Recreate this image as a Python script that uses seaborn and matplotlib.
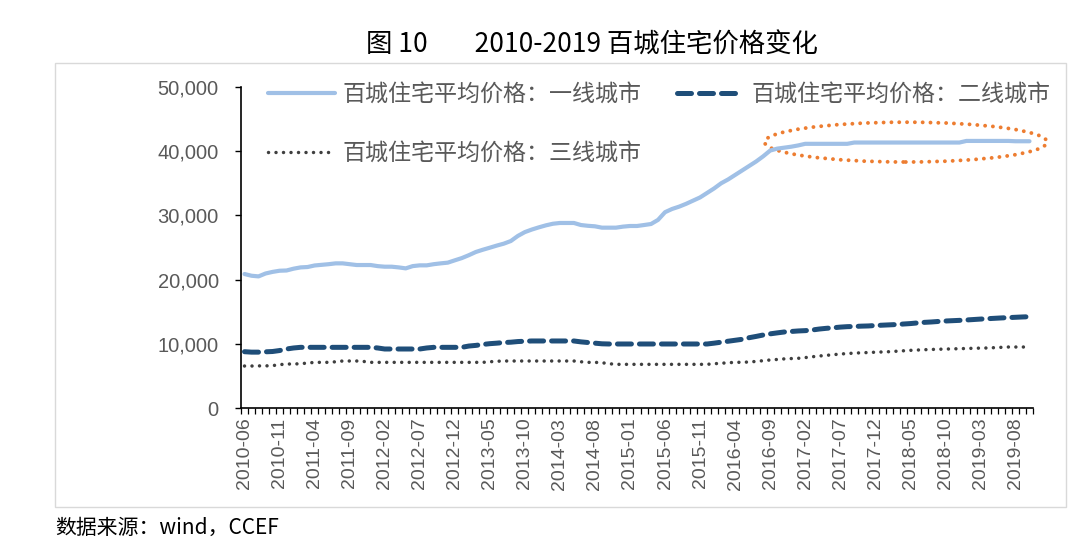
import numpy as np
import pandas as pd
import seaborn as sns
import matplotlib
matplotlib.use("Agg")
import matplotlib.pyplot as plt
from matplotlib.patches import Ellipse, Rectangle
from matplotlib.ticker import FuncFormatter, FixedLocator

# ---------------- data ----------------
months = [p.strftime("%Y-%m") for p in pd.period_range("2010-06", "2019-10", freq="M")]

tier1 = [
    20870, 20600, 20500, 20950, 21200, 21380, 21420, 21700, 21900, 21960,
    22200, 22300, 22400, 22530, 22530, 22400, 22270, 22270, 22270, 22100,
    22010, 22010, 21900, 21750, 22100, 22220, 22220, 22400, 22530, 22640,
    23000, 23350, 23800, 24300, 24650, 24970, 25300, 25600, 26010, 26800,
    27400, 27800, 28140, 28450, 28700, 28820, 28820, 28820, 28500, 28380,
    28300, 28090, 28090, 28090, 28250, 28350, 28350, 28500, 28660, 29300,
    30500, 31000, 31360, 31800, 32300, 32800, 33500, 34200, 35000, 35600,
    36300, 37000, 37700, 38400, 39200, 40100, 40400, 40550, 40700, 40900,
    41150, 41150, 41150, 41150, 41150, 41150, 41150, 41350, 41350, 41350,
    41350, 41350, 41350, 41350, 41350, 41350, 41350, 41350, 41350, 41350,
    41350, 41350, 41350, 41600, 41600, 41600, 41600, 41600, 41600, 41600,
    41550, 41550, 41550,
]
tier2 = [
    8770, 8700, 8700, 8750, 8800, 8950, 9190, 9350, 9450, 9450,
    9450, 9450, 9450, 9450, 9450, 9450, 9450, 9450, 9450, 9350,
    9190, 9190, 9190, 9190, 9190, 9190, 9350, 9450, 9450, 9450,
    9450, 9450, 9650, 9750, 9900, 10020, 10100, 10200, 10250, 10350,
    10400, 10440, 10440, 10440, 10440, 10440, 10440, 10440, 10300, 10200,
    10100, 10000, 9970, 9970, 9970, 9970, 9970, 9970, 9970, 9970,
    9970, 9970, 9970, 9970, 9970, 9970, 9970, 10100, 10250, 10400,
    10550, 10700, 10950, 11150, 11370, 11550, 11700, 11840, 11920, 12000,
    12050, 12150, 12300, 12410, 12500, 12600, 12670, 12700, 12750, 12780,
    12850, 12900, 12950, 13000, 13080, 13150, 13250, 13340, 13400, 13480,
    13550, 13600, 13650, 13710, 13780, 13850, 13910, 13970, 14030, 14080,
    14130, 14180, 14220,
]
tier3 = [
    6540, 6540, 6560, 6560, 6600, 6750, 6850, 6850, 6900, 7000,
    7110, 7110, 7110, 7200, 7320, 7320, 7320, 7250, 7110, 7110,
    7110, 7110, 7110, 7110, 7110, 7110, 7110, 7110, 7110, 7110,
    7110, 7110, 7110, 7110, 7110, 7200, 7280, 7320, 7320, 7320,
    7320, 7320, 7320, 7320, 7320, 7320, 7320, 7320, 7200, 7110,
    7110, 7050, 6900, 6800, 6800, 6800, 6800, 6800, 6800, 6800,
    6800, 6800, 6800, 6800, 6800, 6800, 6800, 6900, 6960, 7060,
    7100, 7130, 7160, 7260, 7370, 7480, 7560, 7650, 7700, 7740,
    7850, 7980, 8100, 8200, 8300, 8410, 8480, 8550, 8600, 8640,
    8690, 8730, 8770, 8840, 8910, 8980, 9030, 9080, 9120, 9150,
    9180, 9210, 9240, 9270, 9300, 9330, 9350, 9400, 9450, 9500,
    9500, 9500, 9500,
]
series_names = ["百城住宅平均价格：一线城市", "百城住宅平均价格：二线城市", "百城住宅平均价格：三线城市"]
y_ticks = [0, 10000, 20000, 30000, 40000, 50000]
title_text = "图 10        2010-2019 百城住宅价格变化"
source_text = "数据来源：wind，CCEF"

# ---------------- style ----------------
sns.set_theme(style="white")
plt.rcParams["font.family"] = ["Liberation Sans", "Noto Sans CJK SC", "DejaVu Sans"]

n = len(months)
idx = np.arange(n)
df = pd.DataFrame({"idx": idx, "t1": tier1, "t2": tier2, "t3": tier3})

fig = plt.figure(figsize=(10.8, 5.51), dpi=100)
ax = fig.add_axes([241 / 1080, 1 - 408 / 551, (1033 - 241) / 1080, (408 - 87) / 551])

sns.lineplot(data=df, x="idx", y="t1", ax=ax, color="#A0C0E6", linewidth=3.0,
             label=series_names[0])
sns.lineplot(data=df, x="idx", y="t2", ax=ax, color="#1F4E79", linewidth=3.6,
             label=series_names[1])
sns.lineplot(data=df, x="idx", y="t3", ax=ax, color="#3F3F3F", linewidth=2.5,
             label=series_names[2])

lines = ax.get_lines()
l1, l2, l3 = lines[0], lines[1], lines[2]
l1.set_solid_capstyle("round")
l2.set_dashes((2.8, 1.6))
l2.set_dash_capstyle("round")
l3.set_dashes((0.01, 2.15))
l3.set_dash_capstyle("round")

ax.set_xlim(-0.5, n - 0.5)
ax.set_ylim(0, 50000)
ax.set_xlabel("")
ax.set_ylabel("")

# y axis
ax.set_yticks(y_ticks)
ax.yaxis.set_major_formatter(FuncFormatter(lambda v, p: f"{int(v):,}"))
ax.tick_params(axis="y", which="major", left=True, length=4, width=1, color="black",
               labelsize=14.5, labelcolor="#595959", pad=12)

# x axis: minor ticks at category boundaries, labels every 5 months
label_pos = idx[::5]
ax.set_xticks(label_pos)
ax.set_xticklabels([months[i] for i in label_pos], rotation=90)
ax.xaxis.set_minor_locator(FixedLocator(np.arange(-0.5, n, 1.0)))
ax.tick_params(axis="x", which="major", bottom=True, length=0, labelsize=14,
               labelcolor="#595959", pad=7)
ax.tick_params(axis="x", which="minor", bottom=True, length=4, width=0.9, color="black")

for s in ["top", "right"]:
    ax.spines[s].set_visible(False)
for s in ["left", "bottom"]:
    ax.spines[s].set_color("black")
    ax.spines[s].set_linewidth(1.2)
ax.grid(False)

# legend: row1 = tier1, tier2; row2 = tier3
h, lab = ax.get_legend_handles_labels()
order = [0, 2, 1]
leg = ax.legend([h[i] for i in order], [lab[i] for i in order], ncol=2,
                loc="upper left", bbox_to_anchor=(268 / 1080, 1 - 83 / 551),
                bbox_transform=fig.transFigure, frameon=False, fontsize=16.6,
                handlelength=2.9, handletextpad=0.35, columnspacing=1.5,
                labelspacing=1.55, borderpad=0, borderaxespad=0)
for t in leg.get_texts():
    t.set_color("#595959")
    t.set_family(["Noto Sans CJK SC", "DejaVu Sans"])

# highlight ellipse around the tier-1 plateau, derived from data
plateau = np.array(tier1[75:])
ex0, ex1 = 74.2, n + 1.5
ell = Ellipse(((ex0 + ex1) / 2, plateau.mean() + 150), width=ex1 - ex0, height=6200,
              fill=False, edgecolor="#ED7D31", linestyle=(0, (0.01, 2.0)),
              linewidth=2.8, capstyle="round", clip_on=False)
ax.add_patch(ell)

# outer border, title, source
fig.patches.append(Rectangle((55 / 1080, 1 - 507 / 551), (1066 - 55) / 1080, (507 - 63) / 551,
                             transform=fig.transFigure, fill=False, edgecolor="#D9D9D9",
                             linewidth=1.0))
fig.text(592 / 1080, 1 - 45 / 551, title_text, ha="center", va="center", fontsize=19,
         color="black", family=["Noto Sans CJK SC", "DejaVu Sans"])
fig.text(55 / 1080, 1 - 528 / 551, source_text, ha="left", va="center", fontsize=15,
         color="black", family=["Noto Sans CJK SC", "DejaVu Sans"])

fig.savefig("out.png", dpi=100, facecolor="white")
